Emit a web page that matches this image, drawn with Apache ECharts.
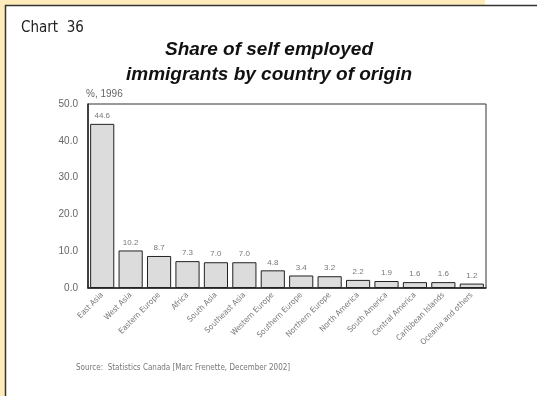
<!DOCTYPE html>
<html><head><meta charset="utf-8">
<script src="https://cdn.jsdelivr.net/npm/echarts@6/dist/echarts.min.js"></script>
<style>html,body{margin:0;padding:0;background:#fff}#c{width:538px;height:396px}</style>
</head><body><div id="c"></div>
<script>
const categories = ["East Asia","West Asia","Eastern Europe","Africa","South Asia","Southeast Asia","Western Europe","Southern Europe","Northern Europe","North America","South America","Central America","Caribbean Islands","Oceania and others"];
const values = [44.6,10.2,8.7,7.3,7.0,7.0,4.8,3.4,3.2,2.2,1.9,1.6,1.6,1.2];
const yTicks = [0,10,20,30,40,50];

const chart = echarts.init(document.getElementById('c'), null, {renderer:'canvas'});
chart.setOption({
  animation:false,
  backgroundColor:'#fff',
  graphic:[
    {type:'rect', shape:{x:0,y:0,width:485,height:5}, style:{fill:'#feebbb'}, silent:true},
    {type:'rect', shape:{x:0,y:0,width:5,height:396}, style:{fill:'#feebbb'}, silent:true},
    {type:'line', shape:{x1:5,y1:5.5,x2:537,y2:5.5}, style:{stroke:'#333',lineWidth:1.5}},
    {type:'line', shape:{x1:5.5,y1:5,x2:5.5,y2:396}, style:{stroke:'#333',lineWidth:1.5}},
    {type:'text', left:21, top:21, style:{text:'Chart  36', font:'15px "Liberation Sans Narrow","DejaVu Sans Condensed",sans-serif', fill:'#222'}},
    {type:'text', left:86, top:89, style:{text:'%, 1996', font:'10px "Liberation Sans","DejaVu Sans",sans-serif', fill:'#666'}},
    {type:'text', left:76, top:364, style:{text:'Source:  Statistics Canada [Marc Frenette, December 2002]', font:'8px "Liberation Sans Narrow","DejaVu Sans Condensed",sans-serif', fill:'#777'}}
  ],
  title:{
    text:'Share of self employed\nimmigrants by country of origin',
    left:264, textAlign:'center', top:32,
    textStyle:{fontSize:19, fontWeight:'bold', fontStyle:'italic', fontFamily:'"Liberation Sans",Arial,sans-serif', color:'#111', lineHeight:25}
  },
  grid:{left:88, top:104, right:52, bottom:108, show:true, borderColor:'#333', borderWidth:1},
  xAxis:{
    type:'category', data:categories,
    axisLine:{show:true, lineStyle:{color:'#222', width:1.5}},
    axisTick:{show:false},
    axisLabel:{rotate:45, interval:0, fontSize:8, color:'#777', margin:6, fontFamily:'"Liberation Sans Narrow","DejaVu Sans Condensed",sans-serif'}
  },
  yAxis:{
    type:'value', min:yTicks[0], max:yTicks[yTicks.length-1], interval:10,
    axisLine:{show:true, lineStyle:{color:'#222', width:1.5}},
    axisTick:{show:false},
    splitLine:{show:false},
    axisLabel:{formatter:v=>v.toFixed(1), fontSize:10, color:'#666', margin:10, fontFamily:'"Liberation Sans","DejaVu Sans",sans-serif'}
  },
  series:[{
    type:'bar', data:values, barCategoryGap:'15%',
    itemStyle:{color:'#dcdcdc', borderColor:'#222', borderWidth:1},
    label:{show:true, position:'top', distance:4, formatter:p=>p.value.toFixed(1), fontSize:8, color:'#777', fontFamily:'"Liberation Sans","DejaVu Sans",sans-serif'}
  }]
});
</script></body></html>
